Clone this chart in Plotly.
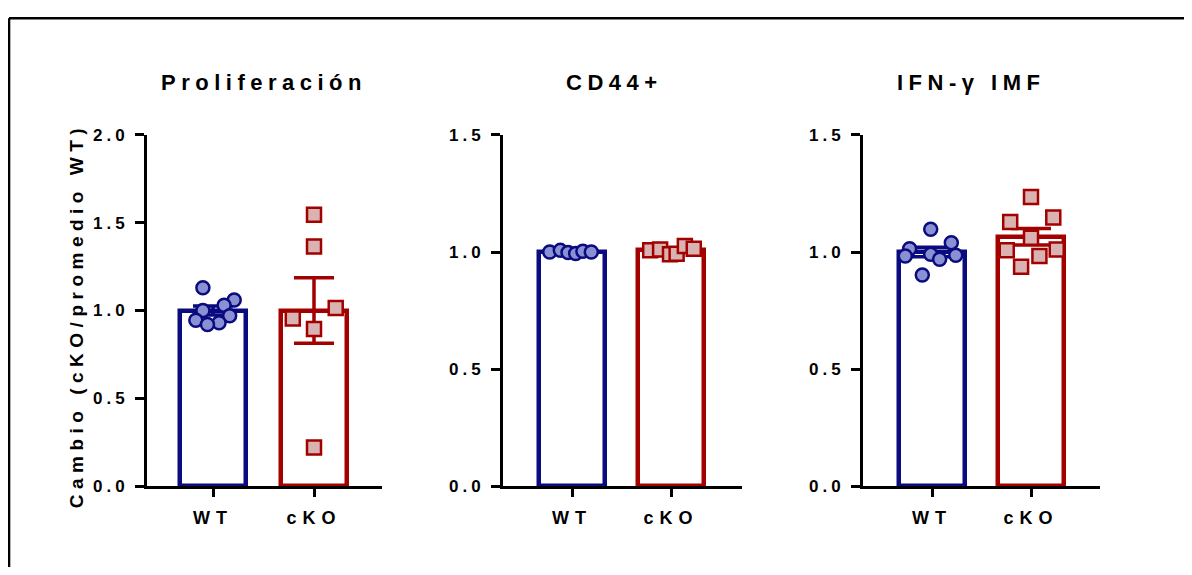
import plotly.graph_objects as go

# ---------------- data ----------------
groups = ["WT", "cKO"]
panel_titles = ["Proliferación", "CD44+", "IFN-γ IMF"]
y_title = "Cambio (cKO/promedio WT)"

prolif_ticks = ["0.0", "0.5", "1.0", "1.5", "2.0"]
prolif_tickvals = [0, 0.5, 1.0, 1.5, 2.0]
other_ticks = ["0.0", "0.5", "1.0", "1.5"]
other_tickvals = [0, 0.5, 1.0, 1.5]

prolif_mean = [1.0, 1.0]
prolif_sem = [0.026, 0.187]
prolif_wt = [1.13, 1.06, 1.03, 1.00, 0.97, 0.945, 0.93, 0.92]
prolif_ko = [1.545, 1.365, 1.015, 0.955, 0.895, 0.22]

cd44_mean = [1.0, 1.007]
cd44_sem = [0.002, 0.005]
cd44_wt = [1.0, 1.007, 0.998, 0.994, 1.003, 1.0]
cd44_ko = [1.007, 1.011, 0.99, 0.993, 1.026, 1.014]

ifn_mean = [1.0, 1.065]
ifn_sem = [0.02, 0.035]
ifn_wt = [1.097, 1.04, 1.014, 0.99, 0.983, 0.986, 0.969, 0.902]
ifn_ko = [1.235, 1.128, 1.147, 1.061, 1.007, 1.011, 0.983, 0.937]

# horizontal scatter offsets (layout of points within each bar)
prolif_wt_jit = [-0.10, 0.21, 0.11, -0.10, 0.165, -0.17, 0.06, -0.055]
prolif_ko_jit = [0, 0, 0.215, -0.21, 0, 0]
cd44_wt_jit = [-0.225, -0.118, -0.04, 0.037, 0.11, 0.195]
cd44_ko_jit = [-0.21, -0.11, -0.01, 0.057, 0.14, 0.23]
ifn_wt_jit = [-0.013, 0.195, -0.226, -0.013, -0.27, 0.24, 0.077, -0.098]
ifn_ko_jit = [0, -0.21, 0.225, 0, -0.245, 0.26, 0.085, -0.1]

# ---------------- style / geometry ----------------
PAGE_MARGIN = 8
W, H = 1192 - 2 * PAGE_MARGIN, 575 - 2 * PAGE_MARGIN
NAVY = "#0b0b80"
DRED = "#a30000"
BLUE_FILL = "#8a91d3"
RED_FILL = "#d9b2b2"
FONT = "Arial, Liberation Sans, sans-serif"
VSCALE, VOFF = 0.97, 16   # screen-to-figure vertical mapping


def px_x(x):
    return (x - PAGE_MARGIN) / W


def px_y(y):
    fy = y / VSCALE - VOFF
    return 1 - fy / H


def sp(text, ls):
    return f'<span style="letter-spacing:{ls}px">{text}</span>'


panels = [
    dict(mean=prolif_mean, sem=prolif_sem, wt=prolif_wt, ko=prolif_ko,
         wtj=prolif_wt_jit, koj=prolif_ko_jit, tv=prolif_tickvals, tt=prolif_ticks,
         yr=[0, 2.0], px=(147, 213, 314, 382)),
    dict(mean=cd44_mean, sem=cd44_sem, wt=cd44_wt, ko=cd44_ko,
         wtj=cd44_wt_jit, koj=cd44_ko_jit, tv=other_tickvals, tt=other_ticks,
         yr=[0, 1.5], px=(503, 572, 671, 742)),
    dict(mean=ifn_mean, sem=ifn_sem, wt=ifn_wt, ko=ifn_ko,
         wtj=ifn_wt_jit, koj=ifn_ko_jit, tv=other_tickvals, tt=other_ticks,
         yr=[0, 1.5], px=(863, 932, 1031, 1100)),
]
title_x = [264, 614, 971]

fig = go.Figure()
y_bot_px, y_top_px = 486.5, 134

for i, p in enumerate(panels):
    n = "" if i == 0 else str(i + 1)
    xa, ya = "x" + n, "y" + n
    left, t0, t1, right = p["px"]
    spacing = t1 - t0
    xr = [-(t0 - left) / spacing, 1 + (right - t1) / spacing]
    bar_w = 66 / spacing

    for gi, (col, fill, pts, jit, sym) in enumerate([
        (NAVY, BLUE_FILL, p["wt"], p["wtj"], "circle"),
        (DRED, RED_FILL, p["ko"], p["koj"], "square"),
    ]):
        fig.add_trace(go.Bar(
            x=[gi], y=[p["mean"][gi]], width=bar_w,
            marker=dict(color="white", line=dict(color=col, width=4.5)),
            error_y=dict(type="data", array=[p["sem"][gi]], arrayminus=[p["sem"][gi]],
                         symmetric=False, color=col, thickness=3.5, width=20),
            xaxis=xa, yaxis=ya, showlegend=False, hoverinfo="skip",
        ))
        fig.add_trace(go.Scatter(
            x=[gi + j for j in jit], y=pts, mode="markers",
            marker=dict(symbol=sym, size=13 if sym == "circle" else 14,
                        color=fill, line=dict(color=col, width=2.5)),
            xaxis=xa, yaxis=ya, showlegend=False, cliponaxis=False,
        ))

    fig.layout["xaxis" + n] = dict(
        domain=[px_x(left), px_x(right)], range=xr, anchor=ya,
        tickvals=[0, 1], ticktext=[sp(g, 6) for g in groups],
        showline=True, linecolor="black", linewidth=3,
        ticks="outside", ticklen=8, tickwidth=3, tickcolor="black",
        showgrid=False, zeroline=False, fixedrange=True, ticklabelstandoff=5,
        tickfont=dict(family=FONT, size=18, color="black", weight="bold"),
    )
    fig.layout["yaxis" + n] = dict(
        domain=[px_y(y_bot_px), px_y(y_top_px)], range=p["yr"], anchor=xa,
        tickvals=p["tv"], ticktext=[sp(t, 4) for t in p["tt"]],
        showline=True, linecolor="black", linewidth=3,
        ticks="outside", ticklen=9, tickwidth=3, tickcolor="black",
        showgrid=False, zeroline=False, fixedrange=True, ticklabelstandoff=3,
        tickfont=dict(family=FONT, size=17, color="black", weight="bold"),
    )
    fig.add_annotation(
        x=px_x(title_x[i]), y=px_y(81), xref="paper", yref="paper",
        text=sp(panel_titles[i], 5.5), showarrow=False,
        font=dict(family=FONT, size=22, color="black", weight="bold"),
        xanchor="center", yanchor="middle",
    )

fig.add_annotation(
    x=px_x(76), y=px_y(316), xref="paper", yref="paper",
    text=sp(y_title, 5.5), showarrow=False, textangle=-90,
    font=dict(family=FONT, size=19, color="black", weight="bold"),
    xanchor="center", yanchor="middle",
)

# outer frame (top and left edges)
fig.add_shape(type="line", xref="paper", yref="paper",
              x0=px_x(9), x1=1.02, y0=1 - 1.3 / H, y1=1 - 1.3 / H,
              line=dict(color="black", width=2.6))
fig.add_shape(type="line", xref="paper", yref="paper",
              x0=px_x(9), x1=px_x(9), y0=1 - 1.3 / H, y1=-0.05,
              line=dict(color="black", width=2.6))

fig.update_layout(
    width=W, height=H, margin=dict(l=0, r=0, t=0, b=0),
    paper_bgcolor="white", plot_bgcolor="white",
    barmode="overlay", bargap=0,
)

fig.write_html("out.html")
